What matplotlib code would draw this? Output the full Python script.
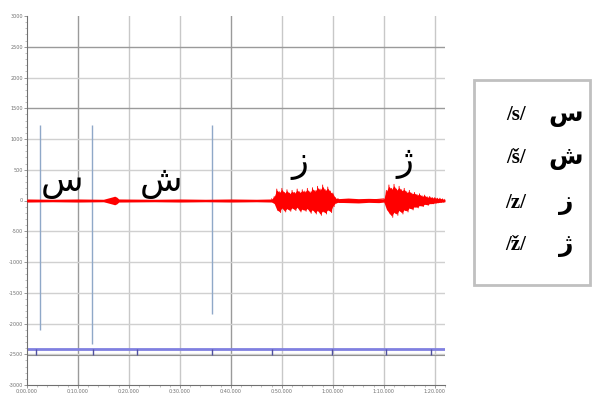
import numpy as np
import matplotlib.pyplot as plt
from matplotlib.patches import Rectangle

# envelope of the recorded waveform (seconds, amplitude)
t_env = [0, 5, 10, 15, 16.8, 17.2, 17.6, 18, 25, 30, 35, 40, 45, 48,
         48.5, 49, 49.5, 50, 50.5, 51, 51.5, 52, 52.5, 53, 53.5, 54, 54.5,
         55, 55.5, 56, 56.5, 57, 57.5, 58, 58.5, 59, 59.5, 60, 60.5,
         61, 63, 65, 67, 69, 70,
         70.5, 71, 71.5, 72, 72.5, 73, 73.5, 74, 74.5, 75, 75.5, 76, 76.5,
         77, 77.5, 78, 78.5, 79, 79.5, 80, 80.5, 81, 81.5, 82]
up_env = [25, 20, 25, 20, 60, 70, 55, 25, 20, 25, 20, 25, 20, 25,
          60, 170, 130, 180, 120, 160, 110, 150, 120, 170, 130, 160, 140,
          180, 130, 190, 150, 210, 170, 230, 160, 200, 140, 110, 40,
          30, 40, 30, 35, 30, 25,
          150, 230, 180, 240, 170, 210, 160, 180, 130, 150, 110, 120, 90,
          100, 70, 80, 55, 60, 45, 45, 35, 35, 25, 20]
lo_env = [-25, -20, -25, -20, -60, -70, -55, -25, -20, -25, -20, -25, -20, -25,
          -50, -150, -180, -120, -170, -130, -160, -120, -150, -110, -170, -140, -160,
          -130, -190, -150, -200, -160, -220, -170, -200, -150, -180, -90, -40,
          -30, -35, -40, -30, -35, -25,
          -140, -200, -250, -190, -220, -160, -200, -150, -170, -120, -140, -100, -110,
          -80, -90, -60, -70, -50, -50, -40, -35, -30, -25, -20]

# selection markers
sel_t = [2.5, 12.7, 36.3]
sel_top = [1235, 1235, 1235]
sel_bot = [-2100, -2340, -1850]

# label track
lab_t = [1.8, 12.9, 21.6, 36.3, 48, 59.8, 70.4, 79.2]
lab_y = -2420

letters = ["س", "ش", "ز", "ژ"]
letter_t = [6.9, 26.2, 53.5, 74.2]
letter_y = [20, 20, 330, 350]

phon = ["/s/", "/š/", "/z/", "/ž/"]

x_ticks = [0, 10, 20, 30, 40, 50, 60, 70, 80]
x_labels = ["0:00.000", "0:10.000", "0:20.000", "0:30.000", "0:40.000",
            "0:50.000", "1:00.000", "1:10.000", "1:20.000"]
y_ticks = [-3000, -2500, -2000, -1500, -1000, -500, 0, 500, 1000, 1500, 2000, 2500, 3000]

fig = plt.figure(figsize=(5.97, 3.94), dpi=100)
ax = fig.add_axes([27/597, 9/394, 418/597, 369/394])

ax.set_xlim(0, 82)
ax.set_ylim(-3000, 3000)

for v in x_ticks[1:]:
    c = "#9a9a9a" if v in (10, 40) else "#c8c8c8"
    ax.axvline(v, color=c, lw=1, zorder=0)
for v in y_ticks[1:-1]:
    c = "#9a9a9a" if v in (2500, 1500) else "#d0d0d0"
    ax.axhline(v, color=c, lw=1, zorder=0)

# waveform: filled envelope, with spikes where samples are dense
ax.fill_between(t_env, lo_env, up_env, color="red", lw=0, zorder=3)
zig_t = []
zig_v = []
for i, (t, u, l) in enumerate(zip(t_env, up_env, lo_env)):
    if 48 <= t <= 61 or 70 <= t <= 82:
        zig_t += [t, t + 0.25]
        zig_v += [u * 1.1, l * 1.1]
ax.plot(zig_t[:50], zig_v[:50], color="red", lw=0.6, zorder=3)
ax.plot(zig_t[50:], zig_v[50:], color="red", lw=0.6, zorder=3)
ax.axhline(0, color="red", lw=1.2, zorder=3)

ax.vlines(sel_t, sel_bot, sel_top, color="#8fa8c8", lw=1, zorder=2)

ax.axhline(lab_y, color="#8080e0", lw=2, zorder=2)
ax.axhline(-2510, color="#909090", lw=0.8, zorder=2)
ax.plot(lab_t, [lab_y - 50] * len(lab_t), ls="none", marker="|", ms=4,
        mew=1, color="#5050a0", zorder=4)

for s, t, y in zip(letters, letter_t, letter_y):
    ax.text(t, y, s, fontsize=25, ha="center", va="bottom",
            family=["DejaVu Sans"], zorder=5)

ax.set_xticks(x_ticks)
ax.set_xticklabels(x_labels)
ax.set_yticks(y_ticks)
ax.set_yticklabels([str(v) for v in y_ticks])
ax.tick_params(labelsize=3.5, labelcolor="#707070", length=2, width=0.5,
               color="#707070", pad=1)
ax.minorticks_on()
ax.tick_params(which="minor", length=1.2, width=0.4, color="#909090")
for sp in ["top", "right"]:
    ax.spines[sp].set_visible(False)
ax.spines["left"].set_color("#707070")
ax.spines["bottom"].set_color("#707070")

# legend box
fig.patches.append(Rectangle((474/597, 1 - 285/394), 116/597, 205/394,
                             transform=fig.transFigure, fill=False,
                             ec="#c0c0c0", lw=2))
row_y = [115, 158, 203, 245]
for p, s, y in zip(phon, letters, row_y):
    fig.text(516/597, 1 - y/394, p, fontsize=15, fontweight="bold",
             family=["Liberation Serif"], ha="center", va="center")
    fig.text(566/597, 1 - y/394, s, fontsize=18, fontweight="bold",
             family=["DejaVu Sans"], ha="center", va="center")

fig.savefig("out.png", dpi=100)
